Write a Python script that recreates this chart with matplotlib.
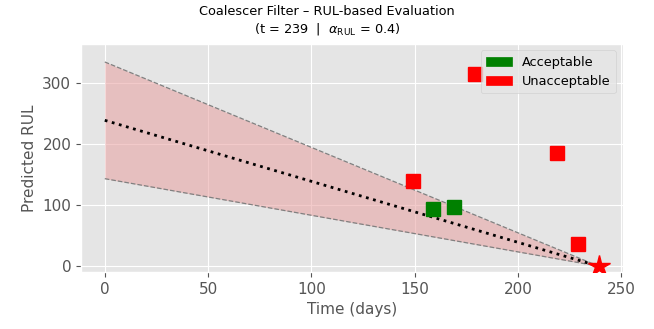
import numpy as np
import matplotlib
matplotlib.use("Agg")
import matplotlib.pyplot as plt
from matplotlib.patches import Patch

plt.style.use("ggplot")

t_now = 239
alpha = 0.4
times = [149, 159, 169, 179, 219, 229, 239]
preds = [140, 93, 97, 315, 186, 37, 1]
acceptable = [False, True, True, False, False, False, False]

true_t = np.array([0, t_now])
true_rul = t_now - true_t
upper = true_rul * (1 + alpha)
lower = true_rul * (1 - alpha)

fig = plt.figure(figsize=(6.54, 3.29), dpi=100)
ax = fig.add_axes([81/654, 1-272/329, (622.5-81)/654, (272-44)/329])

ax.fill_between(true_t, lower, upper, color="#e8a0a0", alpha=0.55, zorder=2, linewidth=0)
ax.plot(true_t, upper, ls="--", color="gray", lw=0.9, zorder=3)
ax.plot(true_t, lower, ls="--", color="gray", lw=0.9, zorder=3)
ax.plot(true_t, true_rul, ls=":", color="black", lw=2, zorder=4)

for t, p, ok in zip(times[:-1], preds[:-1], acceptable[:-1]):
    ax.plot(t, p, "s", color="green" if ok else "red", markersize=9.5, zorder=5)
ax.plot(times[-1], preds[-1], "*", color="green" if acceptable[-1] else "red",
        markersize=16, zorder=6)

ax.set_xlim(-11.5, 250.5)
ax.set_ylim(-9.5, 364)
ax.set_xticks([0, 50, 100, 150, 200, 250])
ax.set_yticks([0, 100, 200, 300])
ax.set_xlabel("Time (days)", fontsize=11)
ax.set_ylabel("Predicted RUL", fontsize=11)
ax.tick_params(labelsize=11)
fig.text(0.5, 1 - 21/329,
         "Coalescer Filter – RUL-based Evaluation\n(t = 239  |  $\\alpha_{\\mathrm{RUL}}$ = 0.4)",
         ha="center", va="center", fontsize=9.3, linespacing=1.2)
ax.legend(handles=[Patch(color="green", label="Acceptable"),
                   Patch(color="red", label="Unacceptable")],
          loc="upper right", fontsize=9.3).set_zorder(10)

fig.savefig("out.png", dpi=100)
